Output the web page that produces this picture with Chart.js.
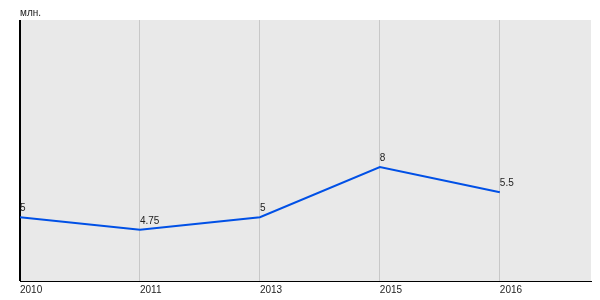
<!DOCTYPE html>
<html lang="ru">
<head>
  <meta charset="UTF-8" />
  <title>млн.</title>
  <script src="https://cdn.jsdelivr.net/npm/chart.js"></script>
  <style>
    body { margin: 0; background: #fff; }
    .chart-container { position: relative; width: 600px; height: 300px; }
  </style>
</head>
<body>
  <div class="chart-container">
    <canvas id="lineChart" width="600" height="300"></canvas>
  </div>

  <script>
    const years = ['2010', '2011', '2013', '2015', '2016'];
    const values = [5, 4.75, 5, 6, 5.5];
    const valueLabels = ['5', '4.75', '5', '8', '5.5'];
    const unitLabel = 'млн.';

    // grey plot background + unit label
    const plotBackground = {
      id: 'plotBackground',
      beforeDraw(chart) {
        const { ctx, chartArea: a } = chart;
        ctx.save();
        ctx.fillStyle = '#e9e9e9';
        ctx.fillRect(a.left, a.top, a.right - a.left, a.bottom - a.top);
        ctx.fillStyle = '#222';
        ctx.font = '10px Arial, "Liberation Sans", sans-serif';
        ctx.textBaseline = 'middle';
        ctx.fillText(unitLabel, a.left, 13);
        ctx.restore();
      },
      afterDatasetsDraw(chart) {
        const { ctx } = chart;
        const pts = chart.getDatasetMeta(0).data;
        ctx.save();
        ctx.fillStyle = '#222';
        ctx.font = '10px Arial, "Liberation Sans", sans-serif';
        ctx.textAlign = 'left';
        ctx.textBaseline = 'alphabetic';
        pts.forEach((p, i) => {
          ctx.fillText(valueLabels[i], p.x, p.y - 6);
        });
        ctx.restore();
      }
    };

    new Chart(document.getElementById('lineChart'), {
      type: 'line',
      data: {
        datasets: [{
          data: values.map((v, i) => ({ x: i, y: v })),
          borderColor: '#0050e6',
          borderWidth: 2,
          pointRadius: 0,
          tension: 0,
          fill: false
        }]
      },
      options: {
        responsive: false,
        animation: false,
        layout: { padding: { left: 20, top: 20, right: 9, bottom: 1 } },
        plugins: {
          legend: { display: false },
          tooltip: { enabled: false }
        },
        scales: {
          x: {
            type: 'linear',
            min: 0,
            max: 4.76,
            border: { color: '#000', width: 1 },
            grid: {
              drawTicks: false,
              color: c => c.index === 0 ? '#000' : '#c8c8c8',
              lineWidth: c => c.index === 0 ? 2 : 1
            },
            ticks: {
              stepSize: 1,
              includeBounds: false,
              align: 'start',
              padding: 3,
              color: '#222',
              font: { family: 'Arial, "Liberation Sans", sans-serif', size: 10 },
              callback: v => Number.isInteger(v) ? years[v] : ''
            }
          },
          y: {
            display: false,
            min: 3.73,
            max: 8.93
          }
        }
      },
      plugins: [plotBackground]
    });
  </script>
</body>
</html>
